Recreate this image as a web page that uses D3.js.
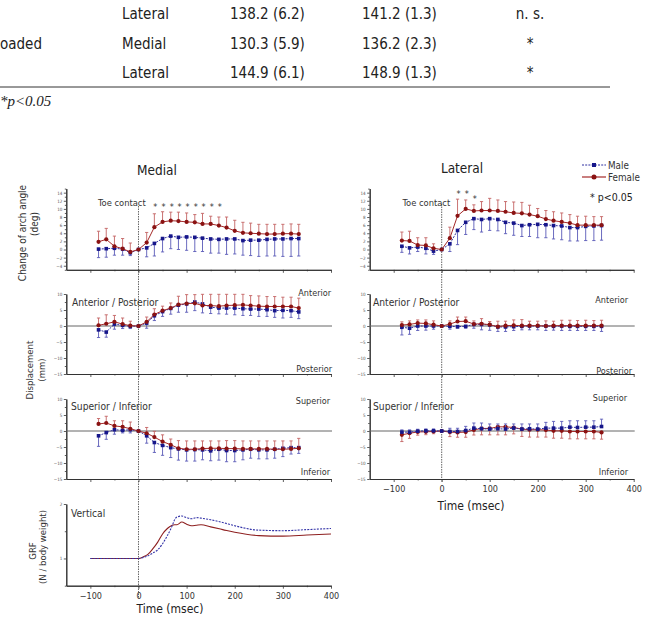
<!DOCTYPE html>
<html>
<head>
<meta charset="utf-8">
<script src="https://cdn.jsdelivr.net/npm/d3@7"></script>
<style>
body { margin: 0; background: #fff; }
svg text { font-family: 'DejaVu Sans Condensed', 'DejaVu Sans', sans-serif; font-stretch: condensed; }
</style>
</head>
<body>
<svg id="chart" width="651" height="617"></svg>
<script>
// table rows (the page is cut at the top and left edge)
let tableRows = [
    ["", "Lateral", "138.2 (6.2)", "141.2 (1.3)", "n. s."],
    ["oaded", "Medial", "130.3 (5.9)", "136.2 (2.3)", "*"],
    ["", "Lateral", "144.9 (6.1)", "148.9 (1.3)", "*"]
];

// sample times (msec), 60 Hz
let times = [-83, -67, -50, -33, -17, 0, 17, 33, 50, 67, 83, 100, 117, 133, 150, 167, 183, 200, 217, 233, 250, 267, 283, 300, 317, 333];

// change of arch angle (deg)
let medArchF   = [1.9, 2.5, 0.8, 0.2, -0.6, 0, 1.7, 5.5, 6.8, 7.1, 7.0, 6.8, 6.7, 6.3, 6.3, 5.9, 5.4, 4.6, 4.1, 4.0, 3.9, 3.8, 3.8, 3.9, 3.9, 3.8];
let medArchFsd = [2.6, 2.7, 2.5, 2.5, 2.2, 0, 2.5, 3.3, 2.5, 2.1, 2.2, 2.2, 1.9, 2.6, 1.9, 2.1, 2.6, 2.6, 2.6, 2.5, 2.3, 2.4, 2.4, 2.3, 2.4, 2.4];
let medArchM   = [0.1, 0.2, 0.3, 0.1, -0.8, 0, 0.4, 1.5, 2.7, 3.3, 3.0, 3.1, 3.0, 2.8, 2.6, 2.5, 2.6, 2.6, 2.2, 2.3, 2.3, 2.5, 2.6, 2.6, 2.7, 2.7];
let medArchMsd = [2.1, 2.1, 1.7, 1.5, 0.7, 0, 2.2, 3.1, 3.3, 3.1, 3.0, 3.3, 3.5, 3.3, 3.5, 3.4, 3.8, 3.7, 3.6, 3.8, 4.0, 4.1, 4.2, 4.3, 4.4, 4.3];
let latArchF   = [2.2, 2.1, 1.1, 1.0, 0.3, 0, 2.8, 8.3, 10.0, 9.5, 9.6, 9.6, 9.5, 9.3, 9.0, 8.9, 8.6, 8.2, 7.5, 7.1, 6.8, 6.5, 6.0, 6.0, 6.0, 6.0];
let latArchFsd = [2.1, 2.4, 1.8, 1.9, 1.1, 0, 2.7, 4.1, 2.2, 1.5, 2.2, 3.0, 2.7, 2.5, 2.7, 2.7, 2.3, 1.9, 2.1, 2.2, 2.2, 2.1, 2.2, 2.2, 2.1, 2.1];
let latArchM   = [0.8, 0.4, 0.6, 0.3, -0.4, 0, 1.4, 4.7, 6.7, 7.6, 7.4, 7.6, 7.4, 6.7, 6.5, 5.9, 6.1, 6.2, 6.1, 5.9, 5.8, 5.4, 5.4, 5.7, 5.8, 5.9];
let latArchMsd = [1.5, 1.5, 1.1, 1.4, 0.8, 0, 1.9, 3.5, 3.0, 2.7, 3.1, 2.9, 2.8, 2.8, 3.0, 2.7, 2.9, 3.3, 3.2, 3.3, 3.4, 3.3, 3.3, 3.5, 3.6, 3.6];

// anterior / posterior displacement (mm)
let medApF   = [0.2, 0.7, 1.3, 0.6, 0.1, 0, 1.3, 3.6, 4.8, 5.6, 6.7, 7.0, 7.1, 6.4, 6.4, 6.2, 6.4, 6.5, 6.6, 6.4, 6.2, 6.1, 6.1, 6.1, 6.1, 5.6];
let medApFsd = [2.3, 2.8, 2.0, 1.9, 1.4, 0, 1.5, 1.8, 1.4, 1.6, 2.6, 2.8, 2.7, 3.5, 3.5, 3.7, 3.5, 3.4, 3.3, 3.1, 3.2, 3.1, 3.1, 2.9, 2.9, 3.1];
let medApM   = [-1.2, -1.9, 0.6, 0.2, -0.1, 0, 0.9, 3.2, 4.5, 5.5, 6.5, 6.9, 7.5, 6.9, 5.9, 5.6, 5.6, 5.6, 5.4, 5.3, 5.3, 5.1, 4.8, 4.9, 4.8, 4.4];
let medApMsd = [2.4, 1.6, 1.6, 1.0, 0.7, 0, 1.6, 1.5, 1.5, 1.8, 2.2, 2.6, 2.7, 2.8, 2.0, 1.8, 1.9, 2.1, 2.1, 2.0, 2.3, 2.1, 2.1, 2.4, 2.1, 2.1];
let latApF   = [0.3, 0.5, 0.9, 0.8, 0.4, 0, 0.6, 1.4, 1.5, 0.6, 0.7, 0.4, -0.2, 0.1, 0.2, 0.1, 0.1, 0.1, 0.0, 0.1, 0.1, 0.1, 0.1, 0.1, 0.1, 0.1];
let latApFsd = [1.0, 1.1, 1.0, 1.1, 1.2, 0, 1.0, 1.4, 1.3, 1.0, 1.6, 1.0, 1.7, 1.4, 1.7, 1.9, 1.4, 1.4, 1.6, 1.4, 1.7, 1.7, 1.6, 1.7, 1.6, 1.7];
let latApM   = [-0.4, -0.7, 0, 0, 0, 0, -0.1, -0.2, -0.1, 0.5, 0.5, 0.35, -0.3, -0.3, -0.2, -0.1, 0, 0, 0, -0.1, 0, -0.1, -0.1, -0.1, -0.1, -0.1];
let latApMsd = [2.4, 1.9, 1.4, 1.3, 1.0, 0, 0.9, 0.5, 0.6, 1.2, 1.7, 1.7, 1.4, 1.4, 1.2, 1.1, 1.2, 1.2, 1.4, 1.2, 1.4, 1.3, 1.3, 1.3, 1.3, 1.6];

// superior / inferior displacement (mm)
let medSiF   = [2.2, 2.5, 1.6, 1.3, 0.7, 0, -0.7, -1.9, -3.3, -4.3, -5.4, -5.7, -5.7, -5.5, -5.4, -5.4, -5.5, -5.5, -5.6, -5.6, -5.6, -5.6, -5.7, -5.7, -5.6, -5.4];
let medSiFsd = [1.7, 2.1, 1.6, 1.9, 2.1, 0, 1.8, 1.8, 2.1, 1.8, 2.4, 2.6, 2.6, 2.4, 2.3, 2.3, 2.5, 2.5, 2.5, 2.5, 2.5, 2.5, 2.6, 2.6, 2.5, 3.1];
let medSiM   = [-1.5, -0.5, 0.4, 0.2, 0.4, 0, -1.5, -3.6, -4.5, -5.2, -5.6, -5.9, -5.8, -5.9, -6.2, -5.7, -6.1, -6.1, -5.9, -5.7, -5.9, -5.9, -5.7, -5.4, -5.2, -5.2];
let medSiMsd = [3.3, 2.1, 1.4, 0.8, 1.0, 0, 2.3, 3.1, 3.1, 3.1, 3.5, 3.5, 3.6, 3.1, 3.1, 3.4, 3.5, 3.5, 3.1, 2.8, 2.8, 2.8, 2.8, 2.6, 2.0, 1.8];
let latSiF   = [-1.2, -0.7, -0.3, -0.25, -0.15, 0, -0.35, -0.45, -0.35, 0.35, 0.8, 0.8, 1.3, 1.3, 1.1, 0.6, 0.4, 0.4, 0.3, 0.05, 0.05, -0.15, -0.15, -0.15, -0.15, -0.45];
let latSiFsd = [2.1, 1.6, 1.0, 0.9, 0.7, 0, 1.4, 1.5, 1.6, 1.6, 2.0, 2.0, 2.5, 2.5, 2.0, 2.3, 2.3, 2.3, 2.2, 2.3, 2.3, 2.3, 2.3, 2.3, 2.3, 2.1];
let latSiM   = [-0.35, -0.35, -0.05, 0.05, 0.05, 0, -0.15, -0.15, 0.15, 0.9, 0.7, 0.6, 0.7, 0.6, 0.9, 0.6, 0.7, 0.6, 0.9, 0.9, 0.9, 1.2, 1.1, 1.2, 1.2, 1.4];
let latSiMsd = [0.7, 0.7, 0.6, 0.6, 0.6, 0, 1.0, 1.0, 1.3, 1.6, 1.8, 1.6, 1.5, 1.6, 1.3, 1.6, 1.5, 1.6, 1.8, 2.1, 2.1, 2.0, 2.1, 2.0, 2.0, 2.3];

// vertical ground reaction force (N / body weight)
let grfTime   = [-100, 0, 10, 20, 30, 40, 50, 60, 70, 75, 80, 90, 100, 110, 120, 130, 150, 175, 200, 250, 300, 350, 400];
let grfMale   = [1.0, 1.0, 1.02, 1.05, 1.1, 1.16, 1.27, 1.42, 1.6, 1.71, 1.76, 1.78, 1.75, 1.73, 1.75, 1.74, 1.71, 1.66, 1.6, 1.52, 1.51, 1.53, 1.55];
let grfFemale = [1.0, 1.0, 1.03, 1.08, 1.18, 1.30, 1.45, 1.55, 1.61, 1.62, 1.62, 1.67, 1.63, 1.6, 1.61, 1.62, 1.58, 1.53, 1.48, 1.42, 1.41, 1.43, 1.45];

// significant time points (index into times)
let sigMedial = [7, 8, 9, 10, 11, 12, 13, 14, 15];
let sigLateral = [7, 8, 9];

let timeTicks = [-100, 0, 100, 200, 300, 400];

// colours
let maleCol = "#16168a", maleLine = "#2f2fa0", maleBar = "#5a5ab8";
let femCol = "#8a1212", femLine = "#a52a2a", femBar = "#c46464";

let svg = d3.select("#chart");

// ---------- table ----------
let colX = [0, 122, 230, 362, 530];
let rowY = [19, 48.5, 78];
tableRows.forEach(function (row, r) {
    row.forEach(function (cell, c) {
        svg.append("text")
            .attr("x", colX[c])
            .attr("y", rowY[r])
            .attr("text-anchor", c == 4 ? "middle" : "start")
            .style("font-size", "15px")
            .style("fill", "#222")
            .text(cell);
    });
});
svg.append("line").attr("x1", 0).attr("x2", 610).attr("y1", 87).attr("y2", 87)
    .style("stroke", "#333").style("stroke-width", 1);
svg.append("text").attr("x", 0).attr("y", 106)
    .style("font-family", "'Liberation Serif', serif").style("font-style", "italic")
    .style("font-stretch", "normal")
    .style("font-size", "15px").style("fill", "#222").text("*p<0.05");

// ---------- scales ----------
let xMed = d3.scaleLinear().domain([-150, 400]).range([66.3, 331]);
let xLat = d3.scaleLinear().domain([-150, 400]).range([369.7, 633.7]);
let yArch = d3.scaleLinear().domain([-5, 15]).range([269.8, 188.6]);
let yAp = d3.scaleLinear().domain([-15, 10]).range([374, 294]);
let ySi = d3.scaleLinear().domain([-15, 10]).range([479, 399]);
let yGrf = d3.scaleLinear().domain([0.5, 2]).range([585.7, 504]);

function drawAxes(x, y, yTicks, yMinor, labelX) {
    let g = svg.append("g").attr("class", "axes");
    let ya = g.append("g").attr("transform", "translate(" + x.range()[0] + ",0)")
        .call(d3.axisLeft(y).tickValues(yTicks).tickSize(2.5).tickSizeOuter(0).tickPadding(1.5).tickFormat(d3.format("")));
    g.append("g").attr("transform", "translate(" + x.range()[0] + ",0)")
        .call(d3.axisLeft(y).tickValues(yMinor).tickSize(1.5).tickSizeOuter(0).tickFormat(""));
    let xa = g.append("g").attr("transform", "translate(0," + y.range()[0] + ")")
        .call(d3.axisBottom(x).tickValues(timeTicks).tickSize(3).tickSizeOuter(0).tickPadding(4)
            .tickFormat(labelX ? d3.format("") : ""));
    g.append("g").attr("transform", "translate(0," + y.range()[0] + ")")
        .call(d3.axisBottom(x).tickValues([-50, 50, 150, 250, 350]).tickSize(1.5).tickSizeOuter(0).tickFormat(""));
    g.selectAll(".domain").style("stroke", "#333").style("stroke-width", 1);
    g.selectAll(".tick line").style("stroke", "#333").style("stroke-width", 0.8);
    ya.selectAll("text").style("font-size", "4.5px").style("fill", "#555")
        .style("font-family", "'DejaVu Sans', sans-serif");
    xa.selectAll("text").style("font-size", "9px").style("fill", "#333")
        .style("font-family", "'DejaVu Sans Condensed', 'DejaVu Sans', sans-serif");
    return g;
}

function zeroLine(x, y) {
    svg.append("line").attr("x1", x.range()[0]).attr("x2", x.range()[1] + 1)
        .attr("y1", y(0)).attr("y2", y(0))
        .style("stroke", "#666").style("stroke-width", 1);
}

function drawSeries(x, y, vals, sds, dir, isMale) {
    let g = svg.append("g");
    let barCol = isMale ? maleBar : femBar;
    // error bars
    times.forEach(function (t, i) {
        if (sds[i] == 0) return;
        let y0 = y(vals[i]), y1 = y(vals[i] + dir * sds[i]);
        g.append("line").attr("x1", x(t)).attr("x2", x(t)).attr("y1", y0).attr("y2", y1)
            .style("stroke", barCol).style("stroke-width", 0.9);
        g.append("line").attr("x1", x(t) - 1.6).attr("x2", x(t) + 1.6).attr("y1", y1).attr("y2", y1)
            .style("stroke", barCol).style("stroke-width", 0.9);
    });
    let line = d3.line().x(function (d, i) { return x(times[i]); }).y(function (d) { return y(d); });
    g.append("path").attr("d", line(vals))
        .style("fill", "none")
        .style("stroke", isMale ? maleLine : femLine)
        .style("stroke-width", 1)
        .style("stroke-dasharray", isMale ? "2,1.2" : null);
    if (isMale) {
        g.selectAll("rect").data(vals).enter().append("rect")
            .attr("x", function (d, i) { return x(times[i]) - 1.8; })
            .attr("y", function (d) { return y(d) - 1.8; })
            .attr("width", 3.6).attr("height", 3.6)
            .style("fill", maleCol);
    } else {
        g.selectAll("circle").data(vals).enter().append("circle")
            .attr("cx", function (d, i) { return x(times[i]); })
            .attr("cy", function (d) { return y(d); })
            .attr("r", 2.1)
            .style("fill", femCol);
    }
}

function label(x, y, txt, size, anchor, col) {
    return svg.append("text").attr("x", x).attr("y", y)
        .attr("text-anchor", anchor || "start")
        .style("font-size", size + "px").style("fill", col || "#333").text(txt);
}

function vlabel(x, y, txt, size) {
    svg.append("text").attr("transform", "translate(" + x + "," + y + ") rotate(-90)")
        .attr("text-anchor", "middle").attr("dy", "0.35em")
        .style("font-size", size + "px").style("fill", "#333").text(txt);
}

let archTicks = [-4, -2, 0, 2, 4, 6, 8, 10, 12, 14];
let archMinor = [-5, -3, -1, 1, 3, 5, 7, 9, 11, 13, 15];
let dispTicks = [-15, -10, -5, 0, 5, 10];
let dispMinor = [-12.5, -7.5, -2.5, 2.5, 7.5];

// toe contact reference lines
svg.append("line").attr("x1", xMed(0)).attr("x2", xMed(0)).attr("y1", 206).attr("y2", 598)
    .style("stroke", "#555").style("stroke-width", 0.9).style("stroke-dasharray", "1.5,1");
svg.append("line").attr("x1", xLat(0)).attr("x2", xLat(0)).attr("y1", 204).attr("y2", 482)
    .style("stroke", "#555").style("stroke-width", 0.9).style("stroke-dasharray", "1.5,1");

// ---------- medial ----------
drawAxes(xMed, yArch, archTicks, archMinor, false);
drawAxes(xMed, yAp, dispTicks, dispMinor, false);
drawAxes(xMed, ySi, dispTicks, dispMinor, false);
drawAxes(xMed, yGrf, [1, 2], [0.5, 1.5], true);
zeroLine(xMed, yAp);
zeroLine(xMed, ySi);

drawSeries(xMed, yArch, medArchM, medArchMsd, -1, true);
drawSeries(xMed, yArch, medArchF, medArchFsd, 1, false);
drawSeries(xMed, yAp, medApM, medApMsd, -1, true);
drawSeries(xMed, yAp, medApF, medApFsd, 1, false);
drawSeries(xMed, ySi, medSiM, medSiMsd, -1, true);
drawSeries(xMed, ySi, medSiF, medSiFsd, 1, false);

let grfLine = d3.line().curve(d3.curveMonotoneX)
    .x(function (d, i) { return xMed(grfTime[i]); }).y(function (d) { return yGrf(d); });
svg.append("path").attr("d", grfLine(grfFemale)).style("fill", "none")
    .style("stroke", "#8e2020").style("stroke-width", 1.1);
svg.append("path").attr("d", grfLine(grfMale)).style("fill", "none")
    .style("stroke", "#3434a8").style("stroke-width", 1.1).style("stroke-dasharray", "2,1.2");

// ---------- lateral ----------
drawAxes(xLat, yArch, archTicks, archMinor, false);
drawAxes(xLat, yAp, dispTicks, dispMinor, false);
drawAxes(xLat, ySi, dispTicks, dispMinor, true);
zeroLine(xLat, yAp);
zeroLine(xLat, ySi);

drawSeries(xLat, yArch, latArchM, latArchMsd, -1, true);
drawSeries(xLat, yArch, latArchF, latArchFsd, 1, false);
drawSeries(xLat, yAp, latApM, latApMsd, -1, true);
drawSeries(xLat, yAp, latApF, latApFsd, 1, false);
drawSeries(xLat, ySi, latSiF, latSiFsd, -1, false);
drawSeries(xLat, ySi, latSiM, latSiMsd, 1, true);

// significance stars
sigMedial.forEach(function (i) {
    label(xMed(times[i]) + 1, 210, "*", 9, "middle", "#333");
});
sigLateral.forEach(function (i, k) {
    label(xLat(times[i]) + 1, k < 2 ? 197 : 202, "*", 9, "middle", "#333");
});

// ---------- text ----------
label(157, 175, "Medial", 13.5, "middle", "#222");
label(462, 172.5, "Lateral", 13.5, "middle", "#222");
label(98, 206, "Toe contact", 9.3);
label(402.5, 206, "Toe contact", 9.3);
label(72, 306, "Anterior / Posterior", 10.2);
label(373, 306, "Anterior / Posterior", 10.2);
label(71, 409.5, "Superior / Inferior", 10.2);
label(373, 409.5, "Superior / Inferior", 10.2);
label(71, 517, "Vertical", 10.2);
label(331, 296, "Anterior", 9, "end");
label(332, 372, "Posterior", 9, "end");
label(628, 302.5, "Anterior", 9, "end");
label(632, 373.5, "Posterior", 9, "end");
label(330, 404, "Superior", 9, "end");
label(330, 475, "Inferior", 9, "end");
label(627, 401, "Superior", 9, "end");
label(628, 474.5, "Inferior", 9, "end");

label(170, 612.5, "Time (msec)", 12, "middle", "#222");
label(471, 510, "Time (msec)", 12, "middle", "#222");

vlabel(22, 233, "Change of arch angle", 10);
vlabel(34, 224, "(deg)", 10);
vlabel(30, 370, "Displacement", 9.5);
vlabel(42, 370, "(mm)", 9.5);
vlabel(33, 551, "GRF", 9.5);
vlabel(43, 547, "(N / body weight)", 9.5);

// legend
svg.append("line").attr("x1", 582).attr("x2", 606).attr("y1", 165).attr("y2", 165)
    .style("stroke", maleLine).style("stroke-width", 1).style("stroke-dasharray", "2,1.2");
svg.append("rect").attr("x", 592).attr("y", 163).attr("width", 4).attr("height", 4).style("fill", maleCol);
label(608, 168.5, "Male", 9.8, "start", "#333");
svg.append("line").attr("x1", 582).attr("x2", 606).attr("y1", 177).attr("y2", 177)
    .style("stroke", femLine).style("stroke-width", 1.2);
svg.append("circle").attr("cx", 594).attr("cy", 177).attr("r", 2.5).style("fill", femCol);
label(608, 180.5, "Female", 9.8, "start", "#333");
label(590, 201, "* p<0.05", 10.5, "start", "#222");
</script>
</body>
</html>
